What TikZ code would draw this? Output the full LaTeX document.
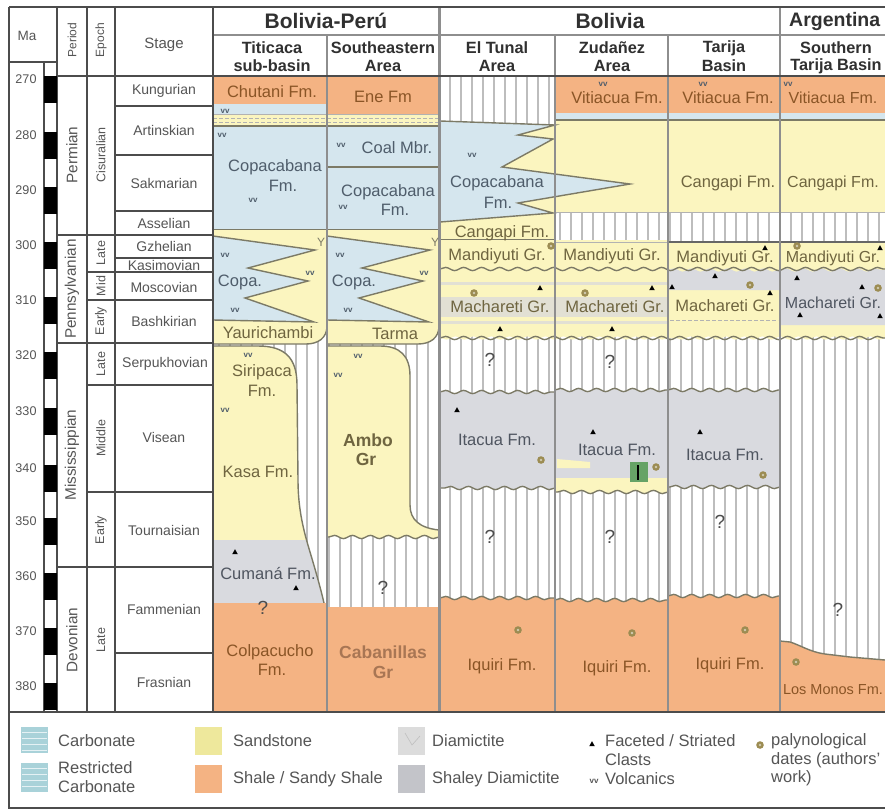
\documentclass[tikz,border=0pt]{standalone}
\usepackage{fontspec}
\setmainfont{Liberation Sans}
\usetikzlibrary{decorations.pathmorphing}
\definecolor{shale}{HTML}{F4B383}
\definecolor{sand}{HTML}{FBF5BF}
\definecolor{carb}{HTML}{D5E6EE}
\definecolor{diam}{HTML}{D9DADF}
\definecolor{carbL}{HTML}{A9D2D9}
\definecolor{sandL}{HTML}{EEE89C}
\definecolor{diamL}{HTML}{DCDCDC}
\definecolor{hatch}{HTML}{BDBDBD}
\definecolor{sep}{HTML}{8E8E8E}
\definecolor{bnd}{HTML}{7C7A66}
\definecolor{txgrey}{HTML}{555555}
\definecolor{txhead}{HTML}{303030}
\definecolor{txsh}{HTML}{8A5526}
\definecolor{txcab}{HTML}{A87654}
\definecolor{txcb}{HTML}{4F5D6B}
\definecolor{txsd}{HTML}{6F6540}
\definecolor{txdm}{HTML}{4F5560}
\definecolor{paly}{HTML}{9C8C52}
\definecolor{stripe}{HTML}{E2E0D4}
\newcommand\fsz[2]{\fontsize{#1}{#2}\selectfont}
\begin{document}
\begin{tikzpicture}[x=1pt,y=-1pt,
  gridl/.style={draw=black!70,line width=1.3},
  sepl/.style={draw=sep,line width=2.4},
  bline/.style={draw=bnd,line width=1.4},
  dline/.style={draw=black!60,line width=2},
  lline/.style={draw=black!30,line width=0.8},
  dsh/.style={draw=black!30,line width=0.8,dash pattern=on 4pt off 2pt},
  hl/.style={draw=hatch,line width=1.1},
  wv/.style={decoration={snake,amplitude=1.6pt,segment length=18pt}},
  stg/.style={font=\fsz{14}{16},text=txgrey,inner sep=0},
  per/.style={font=\fsz{15.3}{17},text=txgrey,rotate=90,inner sep=0},
  epo/.style={font=\fsz{12.5}{14},text=txgrey,rotate=90,inner sep=0},
  hdone/.style={font=\bfseries\fsz{21}{24},text=txhead,inner sep=0},
  hdtwo/.style={font=\bfseries\fsz{16.3}{18},text=txhead,align=center,inner sep=0},
  fm/.style={font=\fsz{16.5}{18},inner sep=0},
  fms/.style={font=\fsz{16}{18},inner sep=0},
  fmb/.style={font=\bfseries\fsz{17.5}{19},inner sep=0},
  vv/.style={font=\bfseries\fsz{8}{8},text=txcb,inner sep=0},
  qm/.style={font=\fsz{19}{19},text=black!70,inner sep=0},
  leg/.style={font=\fsz{16.5}{19},text=txgrey,anchor=west,inner sep=0,align=left},
  tri/.pic={\fill[black] (-2.8,2.2) -- (2.8,2.2) -- (0,-2.8) -- cycle;},
  pdot/.pic={\fill[paly] (0,0) circle (3.8); \fill[paly!45!white] (0,0) circle (1.3);}
]
\useasboundingbox (0,0) rectangle (885,809);
\clip (0,0) rectangle (885,809);
\fill[white] (0,0) rectangle (885,809);

% ---------- hiatus background ----------
\fill[white] (213,76) rectangle (885,712);
\foreach \x in {219,230,...,885} \draw[hl] (\x,76) -- (\x,712);

% ---------- Titicaca & Southeastern: Permian ----------
\fill[shale] (213,76) rectangle (439,104);
\fill[carb] (213,104) rectangle (327,114);
\fill[shale] (327,104) rectangle (439,114);
\fill[sand] (213,114) rectangle (439,126);
\draw[dsh] (213,118.5) -- (439,118.5);
\draw[dsh] (213,122) -- (439,122);
\fill[carb] (213,126) rectangle (439,230);
\draw[lline] (213,114) -- (439,114);
\draw[bline] (213,126) -- (439,126);
\draw[bline] (327,167) -- (439,167);
\draw[bline] (213,230) -- (439,230);

% ---------- Pennsylvanian units (Copa / Yaurichambi / Tarma) ----------
\fill[sand] (213,230) -- (327,230) -- (327,326) .. controls (327,338) and (318,344) .. (306,344) -- (213,344) -- cycle;
\fill[sand] (327,230) -- (439,230) -- (439,326) .. controls (439,338) and (430,344) .. (418,344) -- (327,344) -- cycle;
\fill[carb] (213,236) -- (315,250) -- (248,268) -- (308,281) -- (245,298) -- (314,322) -- (213,320) -- cycle;
\draw[bline] (213,236) -- (315,250) -- (248,268) -- (308,281) -- (245,298) -- (314,322) -- (213,320);
\fill[carb] (327,236) -- (430,250) -- (362,268) -- (423,281) -- (359,298) -- (429,322) -- (327,320) -- cycle;
\draw[bline] (327,236) -- (430,250) -- (362,268) -- (423,281) -- (359,298) -- (429,322) -- (327,320);
\draw[bline] (327,300) -- (327,326) .. controls (327,338) and (318,344) .. (306,344) -- (213,344);
\draw[bline] (439,300) -- (439,326) .. controls (439,338) and (430,344) .. (418,344) -- (327,344);

% ---------- Siripaca / Kasa / Cumana ----------
\begin{scope}
\clip (213,340) rectangle (330,540);
\fill[sand] (213,346) -- (258,346) .. controls (285,346) and (297,358) .. (297,385) -- (298,480) .. controls (298,510) and (304,532) .. (310,552) .. controls (316,572) and (321,590) .. (324,603) -- (213,603) -- cycle;
\end{scope}
\begin{scope}
\clip (213,540) rectangle (330,603);
\fill[diam] (213,346) -- (258,346) .. controls (285,346) and (297,358) .. (297,385) -- (298,480) .. controls (298,510) and (304,532) .. (310,552) .. controls (316,572) and (321,590) .. (324,603) -- (213,603) -- cycle;
\end{scope}
\draw[bline] (213,346) -- (258,346) .. controls (285,346) and (297,358) .. (297,385) -- (298,480) .. controls (298,510) and (304,532) .. (310,552) .. controls (316,572) and (321,590) .. (324,603);

% ---------- Ambo ----------
\fill[sand] (327,346) -- (380,346) .. controls (400,346) and (410,356) .. (410,376) -- (410,505) .. controls (410,520) and (420,528) .. (439,530) -- (439,537) decorate[wv]{-- (327,537)} -- cycle;
\draw[bline] (327,346) -- (380,346) .. controls (400,346) and (410,356) .. (410,376) -- (410,505) .. controls (410,520) and (420,528) .. (439,530);
\draw[bline] (439,537) decorate[wv]{-- (327,537)};

% ---------- Devonian shales cols 1-2 ----------
\fill[shale] (213,603) rectangle (327,712);
\fill[shale] (327,607) rectangle (439,712);

% ---------- El Tunal ----------
\fill[sand] (440,121) -- (555,125) -- (555,240) -- (440,240) -- cycle;
\draw[bline] (440,240) -- (555,240);
% ---------- Zudanez / Tarija / Southern upper ----------
\fill[shale] (555,76) rectangle (885,113);
\fill[carb] (555,113) rectangle (885,119);
\fill[sand] (555,120) rectangle (885,212);
\draw[bline] (555,120) -- (885,120);
\draw[lline] (555,212) -- (885,212);
% blue Copacabana tongue
\fill[carb] (440,121) -- (555,125) -- (518,135) -- (553,139) -- (502,167) -- (630,184) -- (518,203) -- (553,213) -- (440,222) -- cycle;
\draw[bline] (440,121) -- (555,125) -- (518,135) -- (553,139) -- (502,167) -- (630,184) -- (518,203) -- (553,213) -- (440,222);

% Mandiyuti / Machareti
\fill[sand] (440,240) -- (668,240) -- (668,338) decorate[wv]{-- (440,338)} -- cycle;
\foreach \ya/\yb in {282/285,297/317,321/324} \fill[stripe] (441,\ya) rectangle (667,\yb);
\fill[sand] (668,242) -- (885,242) -- (885,338) decorate[wv]{-- (668,338)} -- cycle;
\fill[diam] (668,270) decorate[wv]{-- (780,270)} -- (780,290) -- (668,290) -- cycle;
\fill[diam] (780,270) decorate[wv]{-- (885,270)} -- (885,325) -- (780,325) -- cycle;
\draw[dsh] (670,320) -- (778,320);
\draw[bline] (440,269) decorate[wv]{-- (885,269)};
\draw[bline] (440,338) decorate[wv]{-- (885,338)};
\draw[dline] (668,242) -- (885,242);
\draw[lline] (555,242) -- (668,242);

% Itacua
\fill[diam] (440,392) decorate[wv]{-- (555,392)} -- (555,488) decorate[wv]{-- (440,488)} -- cycle;
\draw[bline] (440,392) decorate[wv]{-- (555,392)};
\draw[bline] (555,488) decorate[wv]{-- (440,488)};
\fill[diam] (555,390) decorate[wv]{-- (668,390)} -- (668,478) -- (555,478) -- cycle;
\fill[sand] (555,478) -- (668,478) -- (668,492) decorate[wv]{-- (555,492)} -- cycle;
\fill[sand] (557,459) -- (590,462) -- (590,468) -- (557,468) -- cycle;
\draw[bline] (555,390) decorate[wv]{-- (668,390)};
\draw[bline] (668,492) decorate[wv]{-- (555,492)};
\fill[diam] (668,390) decorate[wv]{-- (780,390)} -- (780,487) decorate[wv]{-- (668,487)} -- cycle;
\draw[bline] (668,390) decorate[wv]{-- (780,390)};
\draw[bline] (780,487) decorate[wv]{-- (668,487)};
\fill[green!40!black!60!white] (630,462) rectangle (648,482);
\draw[black,line width=1.2] (638,465) -- (638,480);

% Iquiri
\fill[shale] (440,598) decorate[wv]{-- (555,598)} -- (555,712) -- (440,712) -- cycle;
\draw[bline] (440,598) decorate[wv]{-- (555,598)};
\fill[shale] (555,600) decorate[wv]{-- (668,600)} -- (668,712) -- (555,712) -- cycle;
\draw[bline] (555,600) decorate[wv]{-- (668,600)};
\fill[shale] (668,596) decorate[wv]{-- (780,596)} -- (780,712) -- (668,712) -- cycle;
\draw[bline] (668,596) decorate[wv]{-- (780,596)};
% Los Monos
\fill[shale] (780,641) -- (790,642) .. controls (800,645) and (810,652) .. (825,654) -- (850,657) -- (885,660) -- (885,712) -- (780,712) -- cycle;
\draw[bline] (780,641) -- (790,642) .. controls (800,645) and (810,652) .. (825,654) -- (850,657) -- (885,660);

% ---------- separators ----------
\draw[sepl] (327,35) -- (327,712);
\draw[sepl,line width=3] (439,7) -- (439,712);
\draw[sepl] (555,35) -- (555,712);
\draw[sepl] (668,35) -- (668,712);
\draw[sepl] (780,7) -- (780,712);
\draw[sepl] (213,35) -- (885,35);

% ---------- grid of the time scale ----------
\draw[gridl] (9,7) -- (885,7);
\draw[gridl] (9,7) -- (9,808) -- (885,808);
\draw[gridl] (9,712) -- (885,712);
\foreach \x in {57,87,115,213} \draw[gridl] (\x,7) -- (\x,712);
\draw[gridl] (9,62) -- (57,62);
\draw[gridl] (44,62) -- (44,712);
\draw[gridl] (57,76) -- (885,76);
\foreach \y in {235,343,567} \draw[gridl] (57,\y) -- (213,\y);
\foreach \y in {272,300,385,492} \draw[gridl] (87,\y) -- (213,\y);
\foreach \y in {106,155,211,258,653} \draw[gridl] (115,\y) -- (213,\y);

% Ma scale
\node[font=\fsz{13.5}{14},text=txgrey] (mahd) at (27,36) {Ma};
\foreach \t/\v in {76/270,132/280,187/290,242/300,297/310,352/320,408/330,465/340,518/350,573/360,628/370,683/380}{
  \fill[black] (44,\t) rectangle (57,\t+27);
  \node[font=\fsz{12.6}{13},text=txgrey,inner sep=0] (ma\v) at (26,\t+3) {\v};
}

% headers
\node[font=\fsz{12}{13},text=txgrey,rotate=90] (hper) at (72,40) {Period};
\node[font=\fsz{12}{13},text=txgrey,rotate=90] (hepo) at (101,40) {Epoch};
\node[font=\fsz{15}{16},text=txgrey] (hstg) at (164,45) {Stage};
\node[hdone] (hbp) at (326,21) {Bolivia-Perú};
\node[hdone] (hbo) at (610,21) {Bolivia};
\node[hdone,font=\bfseries\fsz{19.5}{22},anchor=west] (har) at (789,21) {Argentina};
\node[hdtwo] (s1) at (272,48) {Titicaca};
\node[hdtwo] (s1b) at (272,66) {sub-basin};
\node[hdtwo] (s2) at (383,48) {Southeastern};
\node[hdtwo] (s2b) at (383,66) {Area};
\node[hdtwo] (s3) at (497,48) {El Tunal};
\node[hdtwo] (s3b) at (497,66) {Area};
\node[hdtwo] (s4) at (612,48) {Zudañez};
\node[hdtwo] (s4b) at (612,66) {Area};
\node[hdtwo] (s5) at (724,48) {Tarija};
\node[hdtwo] (s5b) at (724,66) {Basin};
\node[hdtwo] (s6) at (836,48) {Southern};
\node[hdtwo] (s6b) at (836,66) {Tarija Basin};

% periods / epochs / stages
\node[per] (p1) at (72,155) {Permian};
\node[per] (p2) at (72,289) {Pennsylvanian};
\node[per] (p3) at (72,455) {Mississippian};
\node[per] (p4) at (72,640) {Devonian};
\node[epo] (e1) at (101,155) {Cisuralian};
\node[epo] (e2) at (101,253) {Late};
\node[epo] (e3) at (101,286) {Mid};
\node[epo] (e4) at (101,321) {Early};
\node[epo] (e5) at (101,364) {Late};
\node[epo] (e6) at (101,438) {Middle};
\node[epo] (e7) at (101,530) {Early};
\node[epo] (e8) at (101,640) {Late};
\node[stg] (g1) at (164,91) {Kungurian};
\node[stg] (g2) at (164,130) {Artinskian};
\node[stg] (g3) at (164,183) {Sakmarian};
\node[stg] (g4) at (164,223) {Asselian};
\node[stg] (g5) at (164,246) {Gzhelian};
\node[stg] (g6) at (164,265) {Kasimovian};
\node[stg] (g7) at (164,287) {Moscovian};
\node[stg] (g8) at (164,321) {Bashkirian};
\node[stg] (g9) at (165,364) {Serpukhovian};
\node[stg] (g10) at (164,437) {Visean};
\node[stg] (g11) at (164,530) {Tournaisian};
\node[stg] (g12) at (164,609) {Fammenian};
\node[stg] (g13) at (164,682) {Frasnian};

% ---------- column texts ----------
\node[fm,text=txsh] (chut) at (272,92) {Chutani Fm.};
\node[fm,text=txsh] (ene) at (383,97) {Ene Fm};
\node[vv] (v1) at (225,111) {vv};
\node[vv] (v2) at (222,135) {vv};
\node[fm,text=txcb] (cop1) at (275,167) {Copacabana};
\node[fm,text=txcb] (cop1b) at (283,186) {Fm.};
\node[vv] (v3) at (253,200) {vv};
\node[vv] (v4) at (341,145) {vv};
\node[fm,text=txcb] (coal) at (397,148) {Coal Mbr.};
\node[fm,text=txcb] (cop2) at (388,192) {Copacabana};
\node[fm,text=txcb] (cop2b) at (395,210) {Fm.};
\node[vv] (v5) at (343,207) {vv};
\node[fm,text=txcb] (copa1) at (240,282) {Copa.};
\node[fm,text=txcb] (copa2) at (354,282) {Copa.};
\node[vv] (v6) at (225,255) {vv};
\node[vv] (v7) at (310,273) {vv};
\node[vv] (v8) at (235,310) {vv};
\node[vv] (v9) at (340,255) {vv};
\node[vv] (v10) at (424,273) {vv};
\node[vv] (v11) at (348,310) {vv};
\node[font=\fsz{12}{12},text=bnd,inner sep=0] (y1) at (321,242) {Y};
\node[font=\fsz{12}{12},text=bnd,inner sep=0] (y2) at (435,242) {Y};
\node[fm,text=txsd] (yau) at (268,333) {Yaurichambi};
\node[fm,text=txsd] (tar) at (395,334) {Tarma};
\node[vv] (v12) at (248,355) {vv};
\node[vv] (v13) at (225,410) {vv};
\node[fm,text=txsd] (sir) at (262,372) {Siripaca};
\node[fm,text=txsd] (sirb) at (262,391) {Fm.};
\node[fm,text=txsd] (kasa) at (258,472) {Kasa Fm.};
\node[vv] (v14) at (358,356) {vv};
\node[vv] (v15) at (338,375) {vv};
\node[fmb,text=txsd] (ambo) at (368,440) {Ambo};
\node[fmb,text=txsd] (ambob) at (366,459) {Gr};
\pic at (235,552) {tri};
\pic at (296,588) {tri};
\node[fm,text=txdm] (cum) at (268,573) {Cumaná Fm.};
\node[qm] (q1) at (263,608) {?};
\node[qm] (q2) at (383,588) {?};
\node[fm,text=txsh] (colp) at (270,652) {Colpacucho};
\node[fm,text=txsh] (colpb) at (272,670) {Fm.};
\node[fmb,text=txcab] (cab) at (383,652) {Cabanillas};
\node[fmb,text=txcab] (cabb) at (383,672) {Gr};

% El Tunal
\node[vv] (v16) at (472,155) {vv};
\node[fm,text=txcb] (cop3) at (497,183) {Copacabana};
\node[fm,text=txcb] (cop3b) at (498,203) {Fm.};
\node[fm,text=txsd] (cang1) at (502,233) {Cangapi Fm.};
\node[fm,text=txsd] (man1) at (497,256) {Mandiyuti Gr.};
\pic at (551,246) {pdot};
\node[fm,text=txsd] (mac1) at (500,307) {Machareti Gr.};
\pic at (474,293) {pdot};
\pic at (540,288) {tri};
\pic at (500,329) {tri};
\node[qm] (q3) at (490,360) {?};
\pic at (457,410) {tri};
\node[fm,text=txdm] (ita1) at (497,440) {Itacua Fm.};
\pic at (541,460) {pdot};
\node[qm] (q4) at (490,537) {?};
\pic at (518,630) {pdot};
\node[fm,text=txsh] (iq1) at (502,666) {Iquiri Fm.};

% Zudanez
\node[vv] (v17) at (603,84) {vv};
\node[fm,text=txsh] (vit1) at (617,98) {Vitiacua Fm.};
\node[fm,text=txsd] (man2) at (612,256) {Mandiyuti Gr.};
\node[fm,text=txsd] (mac2) at (615,307) {Machareti Gr.};
\pic at (585,293) {pdot};
\pic at (652,288) {tri};
\pic at (612,329) {tri};
\node[qm] (q5) at (610,362) {?};
\pic at (593,432) {tri};
\node[fm,text=txdm] (ita2) at (617,450) {Itacua Fm.};
\pic at (656,467) {pdot};
\node[qm] (q6) at (610,537) {?};
\pic at (632,633) {pdot};
\node[fm,text=txsh] (iq2) at (617,668) {Iquiri Fm.};

% Tarija
\node[vv] (v18) at (703,84) {vv};
\node[fm,text=txsh] (vit2) at (728,98) {Vitiacua Fm.};
\node[fm,text=txsd] (cang2) at (728,183) {Cangapi Fm.};
\node[fm,text=txsd] (man3) at (725,258) {Mandiyuti Gr.};
\pic at (765,248) {tri};
\pic at (715,276) {tri};
\pic at (750,285) {pdot};
\pic at (672,287) {tri};
\pic at (770,293) {tri};
\node[fm,text=txsd] (mac3) at (725,306) {Machareti Gr.};
\pic at (700,432) {tri};
\node[fm,text=txdm] (ita3) at (725,455) {Itacua Fm.};
\pic at (763,475) {pdot};
\node[qm] (q7) at (720,522) {?};
\pic at (745,630) {pdot};
\node[fm,text=txsh] (iq3) at (730,665) {Iquiri Fm.};

% Southern Tarija
\node[vv] (v19) at (788,84) {vv};
\node[fms,text=txsh] (vit3) at (833,98) {Vitiacua Fm.};
\node[fms,text=txsd] (cang3) at (833,183) {Cangapi Fm.};
\node[fms,text=txsd] (man4) at (833,258) {Mandiyuti Gr.};
\pic at (880,248) {tri};
\pic at (797,246) {pdot};
\pic at (797,278) {tri};
\pic at (862,287) {tri};
\pic at (878,288) {pdot};
\node[fms,text=txdm] (mac4) at (833,303) {Machareti Gr.};
\pic at (800,315) {tri};
\pic at (880,316) {tri};
\node[qm] (q8) at (838,610) {?};
\pic at (796,662) {pdot};
\node[font=\fsz{14.5}{16},inner sep=0,text=txsh] (lm) at (833,690) {Los Monos Fm.};

% ---------- legend ----------
\fill[carbL] (21,727) rectangle (48,753);
\fill[carbL] (21,763) rectangle (48,792);
\foreach \y in {732,738,744,750,768,774,780,786} {\draw[white!70!carbL,line width=0.7] (22,\y) -- (47,\y);}
\node[leg] (lg1) at (58,741) {Carbonate};
\node[leg] (lg2) at (58,777.5) {Restricted\\Carbonate};
\fill[sandL] (195,727) rectangle (222,755);
\node[leg] (lg3) at (233,741) {Sandstone};
\fill[shale] (195,765) rectangle (222,793);
\node[leg] (lg4) at (233,779) {Shale / Sandy Shale};
\fill[diamL] (398,727) rectangle (425,755);
\draw[black!25,line width=0.6] (405,733) -- (412,745) -- (420,736);
\node[leg] (lg5) at (432,741) {Diamictite};
\fill[diam!90!black] (398,765) rectangle (425,793);
\node[leg] (lg6) at (432,779) {Shaley Diamictite};
\pic at (592,744) {tri};
\node[leg] (lg7) at (605,741) {Faceted / Striated};
\node[leg] (lg8) at (605,760) {Clasts};
\node[vv,text=txgrey] (lgv) at (594,781) {vv};
\node[leg] (lg9) at (605,779) {Volcanics};
\pic at (760,745) {pdot};
\node[leg] (lg10) at (771,741) {palynological};
\node[leg] (lg11) at (771,760) {dates (authors'};
\node[leg] (lg12) at (771,778) {work)};
\end{tikzpicture}
\end{document}
